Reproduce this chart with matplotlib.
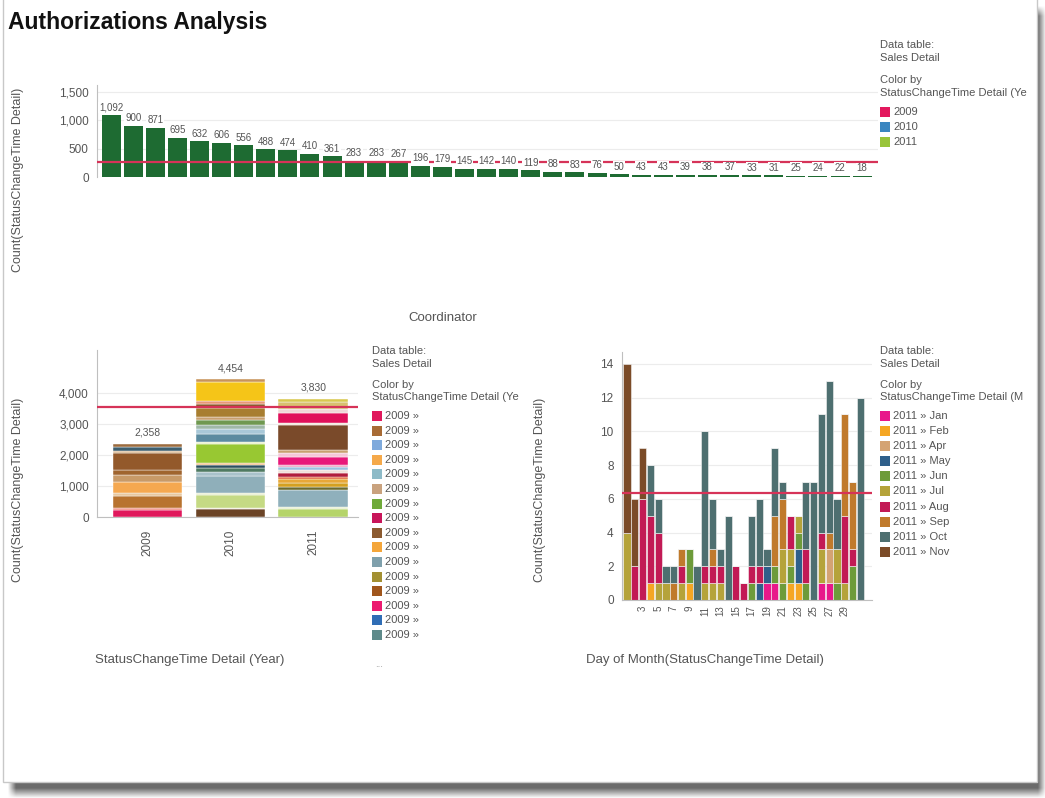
import matplotlib
matplotlib.use("Agg")
import matplotlib.pyplot as plt
from matplotlib.patches import Rectangle
from matplotlib.ticker import FuncFormatter
import numpy as np

plt.rcParams['font.family'] = ['Liberation Sans', 'DejaVu Sans']

W, H = 1045, 798

# ---- Authorizations per coordinator ----
coord_counts = [1092, 900, 871, 695, 632, 606, 556, 488, 474, 410, 361, 283, 283, 267,
                196, 179, 145, 142, 140, 119, 88, 83, 76, 50, 43, 43, 39, 38, 37, 33,
                31, 25, 24, 22, 18]
top_legend_labels = ['2009', '2010', '2011']

# ---- Authorizations per year (stacked by year/month) ----
years = ['2009', '2010', '2011']
seg_2009 = [225, 75, 375, 90, 375, 215, 160, 540, 75, 120, 108]
seg_2010 = [250, 50, 410, 70, 540, 140, 110, 110, 75, 600, 75, 270, 130, 140, 160,
            110, 270, 160, 75, 620, 89]
seg_2011 = [250, 85, 540, 85, 130, 130, 85, 110, 110, 85, 75, 250, 130, 110, 800,
            55, 320, 130, 250, 100]
year_legend_labels = ['2009 \u00bb'] * 16

# ---- Authorizations per day of month, 2011 ----
days = list(range(1, 32))
month_labels = ['2011 \u00bb Jan', '2011 \u00bb Feb', '2011 \u00bb Apr', '2011 \u00bb May',
                '2011 \u00bb Jun', '2011 \u00bb Jul', '2011 \u00bb Aug', '2011 \u00bb Sep',
                '2011 \u00bb Oct', '2011 \u00bb Nov']
cnt_jan = [0,0,0,0,0,0,0,0,0,0, 0,0,0,0,0,0,0,0,1,1, 0,0,0,0,0,1,1,0,0,0, 0]
cnt_feb = [0,0,0,1,0,0,0,0,1,0, 0,0,0,0,0,0,0,0,0,0, 0,1,1,0,0,0,0,0,0,0, 0]
cnt_apr = [0,0,0,0,0,0,0,0,0,0, 0,0,0,0,0,0,0,0,0,0, 0,0,0,0,0,0,2,0,0,0, 0]
cnt_may = [0,0,0,0,0,0,0,0,0,0, 0,0,0,0,0,0,0,1,1,0, 0,0,2,0,0,0,0,0,0,0, 0]
cnt_jun = [0,0,0,0,0,0,0,0,2,0, 0,0,0,0,0,0,1,0,0,1, 1,1,1,1,0,0,0,1,0,2, 0]
cnt_jul = [4,0,0,0,1,1,0,1,0,0, 1,1,1,0,0,0,0,0,0,0, 2,1,1,0,0,2,0,2,1,0, 0]
cnt_aug = [0,2,6,4,3,0,0,1,0,0, 1,1,1,0,2,1,1,1,0,0, 0,2,0,2,0,1,0,0,4,1, 0]
cnt_sep = [0,0,0,0,0,0,1,1,0,0, 0,1,0,0,0,0,0,0,0,3, 3,0,0,0,0,0,1,0,6,4, 0]
cnt_oct = [0,0,0,3,2,1,1,0,0,2, 8,3,1,5,0,0,3,4,1,4, 1,0,0,4,7,7,9,3,0,0, 12]
cnt_nov = [10,4,3,0,0,0,0,0,0,0, 0,0,0,0,0,0,0,0,0,0, 0,0,0,0,0,0,0,0,0,0, 0]
day_ticks = list(range(3, 30, 2))

# ---- styling ----
GREEN = '#1E6B32'
RED = '#D63358'
TXT = '#555555'
GRID = '#ECECEC'
AXIS = '#BFBFBF'
LEG = 8

top_legend_colors = ['#E3185E', '#3A86C0', '#98C43A']
c2009 = ['#E0185C', '#F08A80', '#B8732F', '#E8C8A0', '#F5A850', '#C89A68', '#A0652F',
         '#93592B', '#D8B890', '#3D5E6E', '#9B6B3E']
c2010 = ['#6B4426', '#EDE6D0', '#C5DA84', '#E8EED0', '#8FAFBA', '#A9C2CB', '#4F7A62',
         '#2D5060', '#F2C08A', '#98C832', '#E8F0C8', '#5B8BA0', '#A8C8D8', '#9FB8A8',
         '#6F9850', '#C8A070', '#A87E30', '#8B5A2B', '#E89878', '#F5C518', '#C8945A']
c2011 = ['#B5D46A', '#E8EFD0', '#8FB0BC', '#6B6B30', '#D4A020', '#E8A838', '#E06030',
         '#B01E3C', '#F0E0D8', '#9DC0E0', '#F0A0C0', '#E8187A', '#F5C8D8', '#C8A070',
         '#7A4A2A', '#F0E6DA', '#E0105A', '#F0D8D8', '#D8C070', '#D8C850']
year_legend_colors = ['#E0185C', '#A86B35', '#7FAADC', '#F5A94A', '#8EBBC8', '#C9A27E',
                      '#6FAA3A', '#C8155A', '#8B5A30', '#F4A63A', '#7FA0AC', '#A39032',
                      '#A0561C', '#EC1A70', '#2F6DB5', '#5E8A8A']
month_colors = ['#E8188A', '#F5A623', '#D4A373', '#2F5F8A', '#6D9B3A', '#B5A33A',
                '#C21A55', '#C07A2C', '#4E6F70', '#7B4B28']

fig = plt.figure(figsize=(W / 100, H / 100), dpi=100)
fig.patch.set_facecolor('white')

# ---- panel with drop shadow ----
bg = fig.add_axes([0, 0, 1, 1], zorder=-10)
bg.set_xlim(0, W)
bg.set_ylim(H, 0)
bg.axis('off')
xx = np.arange(W) + 0.5
yy = np.arange(H) + 0.5


def soft(v, a, b, w):
    return np.clip((v - a) / w, 0, 1) * np.clip((b - v) / w, 0, 1)


shade = np.outer(soft(yy, 6, 798, 10), soft(xx, 8, 1046, 8))
img = np.ones((H, W, 3)) * (1 - 0.58 * shade)[:, :, None]
bg.imshow(img, extent=(0, W, H, 0), aspect='auto', interpolation='bilinear')
bg.add_patch(Rectangle((3, -2), 1034, 784, facecolor='white', edgecolor='#C8C8C8', lw=1.0))


def ax_at(l, t, r, b):
    return fig.add_axes([l / W, 1 - b / H, (r - l) / W, (b - t) / H])


def txt(x, y, s, **kw):
    kw.setdefault('va', 'center')
    kw.setdefault('color', TXT)
    return fig.text(x / W, 1 - y / H, s, **kw)


def swatch(x, y, c, s=10):
    fig.patches.append(Rectangle((x / W, 1 - (y + s / 2) / H), s / W, s / H,
                                 facecolor=c, edgecolor='none', transform=fig.transFigure))


def style_axes(ax):
    for sp in ['top', 'right']:
        ax.spines[sp].set_visible(False)
    ax.spines['left'].set_color(AXIS)
    ax.spines['bottom'].set_color(AXIS)
    ax.tick_params(colors=TXT, labelsize=8.5, length=0, pad=6)
    ax.yaxis.grid(True, color=GRID, lw=0.8)
    ax.set_axisbelow(True)


thousands = FuncFormatter(lambda v, p: f'{int(v):,}')

txt(8, 22, 'Authorizations Analysis', fontsize=16.5, fontweight='bold', color='#111111')

# ---- top chart ----
ax1 = ax_at(97, 85, 878, 177)
style_axes(ax1)
x1 = np.arange(len(coord_counts))
ax1.bar(x1, coord_counts, width=0.86, color=GREEN, zorder=2)
avg1 = np.mean(coord_counts)
ax1.axhline(avg1, color=RED, lw=1.6, zorder=3)
for xi, v in zip(x1, coord_counts):
    ax1.text(xi, v + 45, f'{v:,}', ha='center', va='bottom', fontsize=7, color=TXT,
             zorder=4, bbox=dict(boxstyle='square,pad=0.08', fc='white', ec='none'))
ax1.set_xlim(-0.64, len(coord_counts) - 0.28)
ax1.set_ylim(0, 1620)
ax1.set_yticks([0, 500, 1000, 1500])
ax1.yaxis.set_major_formatter(thousands)
ax1.set_xticks([])
ax1.spines['bottom'].set_visible(False)
txt(18, 180, 'Count(StatusChangeTime Detail)', rotation=90, ha='center', fontsize=9)
txt(443, 318, 'Coordinator', ha='center', fontsize=9.5)

txt(880, 45, 'Data table:', fontsize=LEG)
txt(880, 58, 'Sales Detail', fontsize=LEG)
txt(880, 80, 'Color by', fontsize=LEG)
txt(880, 93, 'StatusChangeTime Detail (Ye', fontsize=LEG)
for i, (lab, c) in enumerate(zip(top_legend_labels, top_legend_colors)):
    y = 112 + i * 15
    swatch(880, y, c)
    txt(893, y, lab, fontsize=LEG)

# ---- bottom-left chart ----
ax2 = ax_at(97, 350, 358, 517)
style_axes(ax2)
segs = [seg_2009, seg_2010, seg_2011]
cols = [c2009, c2010, c2011]
totals = []
for i, (sv, cv) in enumerate(zip(segs, cols)):
    base = 0
    for v, c in zip(sv, cv):
        ax2.bar(i, v, bottom=base, width=0.84, color=c, edgecolor='white', lw=0.3, zorder=2)
        base += v
    totals.append(base)
    ax2.text(i, base + 200, f'{base:,}', ha='center', va='bottom', fontsize=7.5, color=TXT)
ax2.axhline(np.mean(totals), color=RED, lw=1.6, zorder=3)
ax2.set_xlim(-0.61, 2.54)
ax2.set_ylim(0, 5400)
ax2.set_yticks([0, 1000, 2000, 3000, 4000])
ax2.yaxis.set_major_formatter(thousands)
ax2.set_xticks(range(len(years)))
ax2.set_xticklabels(years, rotation=90)
ax2.tick_params(axis='x', pad=9)
txt(18, 490, 'Count(StatusChangeTime Detail)', rotation=90, ha='center', fontsize=9)
txt(190, 660, 'StatusChangeTime Detail (Year)', ha='center', fontsize=9.5)

txt(372, 351, 'Data table:', fontsize=LEG)
txt(372, 364, 'Sales Detail', fontsize=LEG)
txt(372, 385, 'Color by', fontsize=LEG)
txt(372, 397, 'StatusChangeTime Detail (Ye', fontsize=LEG)
for i, (lab, c) in enumerate(zip(year_legend_labels, year_legend_colors)):
    y = 416 + i * 14.6
    swatch(372, y, c)
    txt(385, y, lab, fontsize=LEG)
txt(375, 664, '...', fontsize=7, color='#999999')

# ---- bottom-right chart ----
ax3 = ax_at(622, 352, 872, 600)
style_axes(ax3)
month_counts = [cnt_jan, cnt_feb, cnt_apr, cnt_may, cnt_jun, cnt_jul, cnt_aug,
                cnt_sep, cnt_oct, cnt_nov]
base = np.zeros(len(days))
for vals, c in zip(month_counts, month_colors):
    vals = np.array(vals)
    ax3.bar(days, vals, bottom=base, width=0.92, color=c, edgecolor='#F4F4F4', lw=0.4,
            zorder=2)
    base += vals
ax3.axhline(base.mean(), color=RED, lw=1.6, zorder=3)
ax3.set_xlim(0.35, 32.5)
ax3.set_ylim(0, 14.7)
ax3.set_yticks(range(0, 15, 2))
ax3.set_xticks(day_ticks)
ax3.set_xticklabels([str(d) for d in day_ticks], rotation=90, fontsize=7)
ax3.tick_params(axis='x', pad=4)
txt(540, 490, 'Count(StatusChangeTime Detail)', rotation=90, ha='center', fontsize=9)
txt(705, 660, 'Day of Month(StatusChangeTime Detail)', ha='center', fontsize=9.5)

txt(880, 351, 'Data table:', fontsize=LEG)
txt(880, 364, 'Sales Detail', fontsize=LEG)
txt(880, 385, 'Color by', fontsize=LEG)
txt(880, 397, 'StatusChangeTime Detail (M', fontsize=LEG)
for i, (lab, c) in enumerate(zip(month_labels, month_colors)):
    y = 416 + i * 15.1
    swatch(880, y, c)
    txt(893, y, lab, fontsize=LEG)

fig.savefig('out.png', dpi=100, facecolor='white')
